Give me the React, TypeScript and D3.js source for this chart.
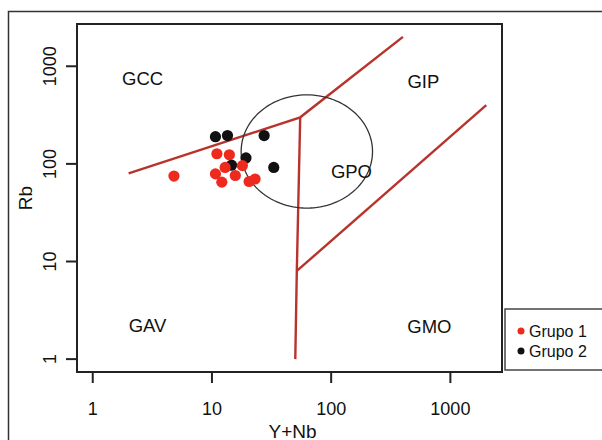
import React from "react";
import * as d3 from "d3";

// ---- data ----
const grupo1X = [4.8, 11, 14, 12.9, 10.7, 15.7, 12.1, 20.5, 23, 18.0];
const grupo1Y = [75, 127, 124, 92, 79, 76, 65, 66, 70, 96];
const grupo2X = [10.7, 13.5, 27.4, 19.3, 33, 14.6];
const grupo2Y = [190, 195, 195, 115, 92, 97];

// Pearce boundaries (Y+Nb, Rb)
const boundaryLines: [number, number][][] = [
  [[2, 80], [55, 300], [400, 2000]],
  [[55, 300], [51.5, 8], [50, 1]],
  [[51.5, 8], [2000, 400]],
];
// post-COLG field: centre and radii in log10 units
const ellipseCenter = [62.5, 134];
const ellipseRadiiLog = [0.551, 0.58];

const fieldNames = ["GCC", "GIP", "GPO", "GAV", "GMO"];
const fieldX = [2.62, 594, 148, 2.88, 667];
const fieldY = [757, 705, 84, 2.22, 2.17];

const xTicks = [1, 10, 100, 1000];
const yTicks = [1, 10, 100, 1000];
const legendLabels = ["Grupo 1", "Grupo 2"];

const lo = Math.pow(10, -0.132);
const hi = Math.pow(10, 3.433);

export default function App() {
  const left = 77, right = 502, top = 24, bottom = 372;
  const x = d3.scaleLog().domain([lo, hi]).range([left, right]);
  const y = d3.scaleLog().domain([lo, hi]).range([bottom, top]);
  const line = d3
    .line<[number, number]>()
    .x((d) => x(d[0]))
    .y((d) => y(d[1]));

  const cx = Math.log10(ellipseCenter[0]);
  const cy = Math.log10(ellipseCenter[1]);
  const ell: [number, number][] = d3.range(0, 361, 3).map((a) => {
    const t = (a * Math.PI) / 180;
    return [
      Math.pow(10, cx + ellipseRadiiLog[0] * Math.cos(t)),
      Math.pow(10, cy + ellipseRadiiLog[1] * Math.sin(t)),
    ];
  });

  const font = "Liberation Sans, Arial, Helvetica, sans-serif";
  const red = "#b8332b";

  return (
    <svg
      width={602}
      height={440}
      style={{ position: "absolute", left: 0, top: 0, background: "#fff" }}
      fontFamily={font}
    >
      {/* outer frame */}
      <rect x={8.5} y={11.5} width={620} height={460} fill="none" stroke="#333" strokeWidth={1.5} />

      {/* boundary lines */}
      {boundaryLines.map((l, i) => (
        <path key={i} d={line(l) || ""} fill="none" stroke={red} strokeWidth={2.4} />
      ))}
      <path d={line(ell) || ""} fill="none" stroke="#333" strokeWidth={1.3} />

      {/* field labels */}
      {fieldNames.map((n, i) => (
        <text
          key={n}
          x={x(fieldX[i])}
          y={y(fieldY[i])}
          textAnchor="middle"
          dominantBaseline="central"
          fontSize={18.5}
          fill="#111"
        >
          {n}
        </text>
      ))}

      {/* points */}
      {grupo2X.map((v, i) => (
        <circle key={"b" + i} cx={x(v)} cy={y(grupo2Y[i])} r={5.6} fill="#111" />
      ))}
      {grupo1X.map((v, i) => (
        <circle key={"r" + i} cx={x(v)} cy={y(grupo1Y[i])} r={5.6} fill="#ee2a1e" />
      ))}

      {/* plot box */}
      <rect x={left} y={top} width={right - left} height={bottom - top} fill="none" stroke="#222" strokeWidth={2} />

      {/* x axis */}
      {xTicks.map((t) => (
        <g key={"x" + t}>
          <line x1={x(t)} x2={x(t)} y1={bottom} y2={bottom + 11} stroke="#222" strokeWidth={2} />
          <text x={x(t)} y={409} textAnchor="middle" dominantBaseline="central" fontSize={18} fill="#111">
            {t}
          </text>
        </g>
      ))}
      <text x={(left + right) / 2 + 3} y={431} textAnchor="middle" dominantBaseline="central" fontSize={19} fill="#111">
        Y+Nb
      </text>

      {/* y axis */}
      {yTicks.map((t) => (
        <g key={"y" + t}>
          <line x1={left - 11} x2={left} y1={y(t)} y2={y(t)} stroke="#222" strokeWidth={2} />
          <text
            transform={`translate(50,${y(t)}) rotate(-90)`}
            textAnchor="middle"
            dominantBaseline="central"
            fontSize={18}
            fill="#111"
          >
            {t}
          </text>
        </g>
      ))}
      <text
        transform={`translate(25,${(top + bottom) / 2}) rotate(-90)`}
        textAnchor="middle"
        dominantBaseline="central"
        fontSize={19}
        fill="#111"
      >
        Rb
      </text>

      {/* legend */}
      <rect x={505} y={309} width={120} height={61} fill="#fff" stroke="#444" strokeWidth={1.5} />
      {legendLabels.map((l, i) => (
        <g key={l}>
          <circle cx={521} cy={331 + i * 20} r={3.5} fill={i === 0 ? "#ee2a1e" : "#111"} />
          <text x={529} y={331 + i * 20} dominantBaseline="central" fontSize={16} fill="#111">
            {l}
          </text>
        </g>
      ))}
    </svg>
  );
}
